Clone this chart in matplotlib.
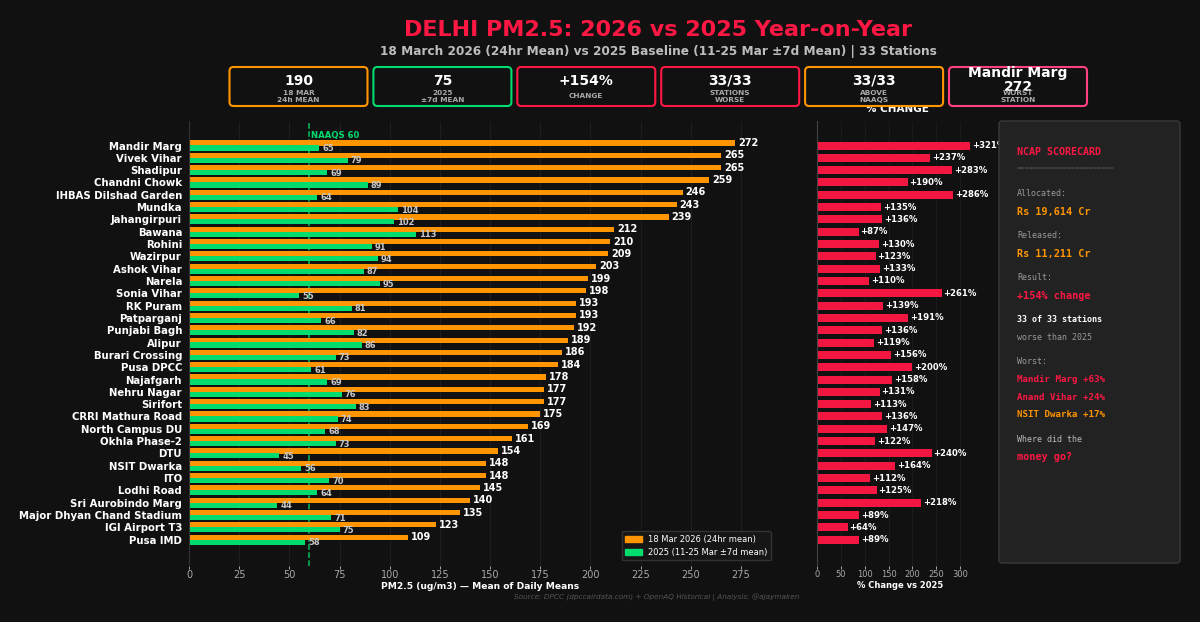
import matplotlib
matplotlib.use('Agg')
import matplotlib.pyplot as plt
from matplotlib.patches import FancyBboxPatch, Patch

stations = ['Mandir Marg', 'Vivek Vihar', 'Shadipur', 'Chandni Chowk', 'IHBAS Dilshad Garden', 'Mundka',
            'Jahangirpuri', 'Bawana', 'Rohini', 'Wazirpur', 'Ashok Vihar', 'Narela', 'Sonia Vihar', 'RK Puram',
            'Patparganj', 'Punjabi Bagh', 'Alipur', 'Burari Crossing', 'Pusa DPCC', 'Najafgarh', 'Nehru Nagar',
            'Sirifort', 'CRRI Mathura Road', 'North Campus DU', 'Okhla Phase-2', 'DTU', 'NSIT Dwarka', 'ITO',
            'Lodhi Road', 'Sri Aurobindo Marg', 'Major Dhyan Chand Stadium', 'IGI Airport T3', 'Pusa IMD']
pm_2026 = [272, 265, 265, 259, 246, 243, 239, 212, 210, 209, 203, 199, 198, 193, 193, 192, 189, 186, 184, 178, 177,
           177, 175, 169, 161, 154, 148, 148, 145, 140, 135, 123, 109]
pm_2025 = [65, 79, 69, 89, 64, 104, 102, 113, 91, 94, 87, 95, 55, 81, 66, 82, 86, 73, 61, 69, 76,
           83, 74, 68, 73, 45, 56, 70, 64, 44, 71, 75, 58]
pct_change = [321, 237, 283, 190, 286, 135, 136, 87, 130, 123, 133, 110, 261, 139, 191, 136, 119, 156, 200, 158, 131,
              113, 136, 147, 122, 240, 164, 112, 125, 218, 89, 64, 89]

kpi_values = ['190', '75', '+154%', '33/33', '33/33', 'Mandir Marg\n272']
kpi_labels = ['18 MAR\n24h MEAN', '2025\n±7d MEAN', 'CHANGE', 'STATIONS\nWORSE', 'ABOVE\nNAAQS', 'WORST\nSTATION']

BG = '#111111'
ORANGE = '#ff9500'
GREEN = '#00dc6e'
RED = '#ff1744'
PINK = '#ff4081'
kpi_colors = [ORANGE, GREEN, RED, RED, ORANGE, PINK]

W, H = 1200, 622
fig = plt.figure(figsize=(12, 6.22), dpi=100, facecolor=BG)


def make_axes(left, top, right, bottom):
    return fig.add_axes([left / W, 1 - bottom / H, (right - left) / W, (bottom - top) / H])


y = list(range(len(stations)))

# graphique principal
ax = make_axes(189, 121.5, 771, 565.5)
ax.set_facecolor(BG)
ax.barh([i - 0.2 for i in y], pm_2026, height=0.42, color=ORANGE, zorder=2)
ax.barh([i + 0.2 for i in y], pm_2025, height=0.42, color=GREEN, zorder=2)
for i in y:
    ax.text(pm_2026[i] + 1.5, i - 0.2, str(pm_2026[i]), color='white', fontsize=7, fontweight='bold', va='center')
    ax.text(pm_2025[i] + 1.5, i + 0.25, str(pm_2025[i]), color='#c8c8c8', fontsize=6, fontweight='bold', va='center')
ax.axvline(60, color=GREEN, ls='--', lw=1.1, zorder=1, alpha=0.85)
ax.text(61, -0.82, 'NAAQS 60', color=GREEN, fontsize=6.1, fontweight='bold', va='center')
ax.set_xlim(0, 290)
ax.set_ylim(34.1, -1.95)
ax.set_yticks(y)
ax.set_yticklabels(stations, color='white', fontsize=7.3, fontweight='bold')
ax.set_xticks(range(0, 276, 25))
ax.tick_params(axis='x', colors='#aaaaaa', labelsize=7, length=2, width=0.7, pad=1.5)
ax.tick_params(axis='y', length=0, pad=5)
ax.grid(axis='x', color='white', alpha=0.07, lw=0.6, zorder=0)
ax.set_axisbelow(True)
for s in ax.spines.values():
    s.set_visible(False)
ax.spines['left'].set_visible(True)
ax.spines['left'].set_color('#333333')
ax.set_xlabel('PM2.5 (ug/m3) — Mean of Daily Means', color='white', fontsize=6.6, fontweight='bold', labelpad=1)
ax.legend(handles=[Patch(color=ORANGE, label='18 Mar 2026 (24hr mean)'),
                   Patch(color=GREEN, label='2025 (11-25 Mar ±7d mean)')],
          loc='lower right', fontsize=6, facecolor='#161616', edgecolor='#333333', labelcolor='white',
          framealpha=1, borderaxespad=0, bbox_to_anchor=(1.0, 0.012))

# graphique pourcentage
ax2 = make_axes(817, 121.5, 984, 565.5)
ax2.set_facecolor(BG)
ax2.barh(y, pct_change, height=0.65, color=RED, alpha=0.95, zorder=2)
for i in y:
    ax2.text(pct_change[i] + 4, i, '+%d%%' % pct_change[i], color='white', fontsize=6.1, fontweight='bold',
             va='center')
ax2.set_xlim(0, 350)
ax2.set_ylim(34.1, -1.95)
ax2.set_yticks([])
ax2.set_xticks(range(0, 301, 50))
ax2.tick_params(axis='x', colors='#aaaaaa', labelsize=6, length=2, width=0.7, pad=1.5)
ax2.grid(axis='x', color='white', alpha=0.05, lw=0.6, zorder=0)
for s in ax2.spines.values():
    s.set_visible(False)
ax2.spines['left'].set_visible(True)
ax2.spines['left'].set_color('#444444')
ax2.set_xlabel('% Change vs 2025', color='white', fontsize=6, fontweight='bold', labelpad=1.5)
ax2.set_title('% CHANGE', color='white', fontsize=7.5, fontweight='bold', pad=7, x=0.48)

# calque en pixels pour les cartes et le texte
ov = fig.add_axes([0, 0, 1, 1], zorder=5)
ov.set_xlim(0, W)
ov.set_ylim(H, 0)
ov.axis('off')

ov.text(658, 30, 'DELHI PM2.5: 2026 vs 2025 Year-on-Year', color=RED, fontsize=16, fontweight='bold',
        ha='center', va='center')
ov.text(658, 51, '18 March 2026 (24hr Mean) vs 2025 Baseline (11-25 Mar ±7d Mean) | 33 Stations', color='#bdbdbd',
        fontsize=8.75, fontweight='bold', ha='center', va='center')

for k in range(6):
    x0 = 229.5 + k * 143.9
    ov.add_patch(FancyBboxPatch((x0 + 3, 70), 132, 33, boxstyle='round,pad=3,rounding_size=4', fc='#111111',
                                ec=kpi_colors[k], lw=1.5))
    xc = x0 + 69
    if '\n' in kpi_values[k]:
        ov.text(xc, 80, kpi_values[k], color='white', fontsize=10, fontweight='bold', ha='center', va='center',
                linespacing=1.0)
    else:
        ov.text(xc, 81, kpi_values[k], color='white', fontsize=10, fontweight='bold', ha='center', va='center')
    ov.text(xc, 96.5, kpi_labels[k], color='#aaaaaa', fontsize=5.3, fontweight='bold', ha='center', va='center',
            linespacing=1.2)

# carte NCAP
ov.add_patch(FancyBboxPatch((1001, 123), 177, 438, boxstyle='round,pad=2,rounding_size=3', fc='#222222',
                            ec='#3a3a3a', lw=1))
card_lines = [
    (152, 'NCAP SCORECARD', RED, 7.2, 'bold'),
    (168, '=======================', '#555555', 5, 'normal'),
    (193, 'Allocated:', '#999999', 6, 'normal'),
    (211.5, 'Rs 19,614 Cr', ORANGE, 7.3, 'bold'),
    (235, 'Released:', '#999999', 6, 'normal'),
    (254, 'Rs 11,211 Cr', ORANGE, 7.3, 'bold'),
    (277, 'Result:', '#999999', 6, 'normal'),
    (296, '+154% change', RED, 7.3, 'bold'),
    (319, '33 of 33 stations', 'white', 6, 'bold'),
    (337, 'worse than 2025', '#999999', 6, 'normal'),
    (361, 'Worst:', '#999999', 6, 'normal'),
    (380, 'Mandir Marg +63%', RED, 6.6, 'bold'),
    (397, 'Anand Vihar +24%', RED, 6.6, 'bold'),
    (414.5, 'NSIT Dwarka +17%', ORANGE, 6.6, 'bold'),
    (439, 'Where did the', '#bbbbbb', 6, 'normal'),
    (457.5, 'money go?', RED, 7.3, 'bold'),
]
for ypx, txt, col, size, weight in card_lines:
    ov.text(1017, ypx, txt, color=col, fontsize=size, fontweight=weight, family='DejaVu Sans Mono', va='center')

ov.text(657, 597, 'Source: DPCC (dpccairdata.com) + OpenAQ Historical | Analysis: @ajaymaken', color='#555555',
        fontsize=5.25, style='italic', ha='center', va='center')

fig.savefig('out.png', dpi=100, facecolor=BG)
